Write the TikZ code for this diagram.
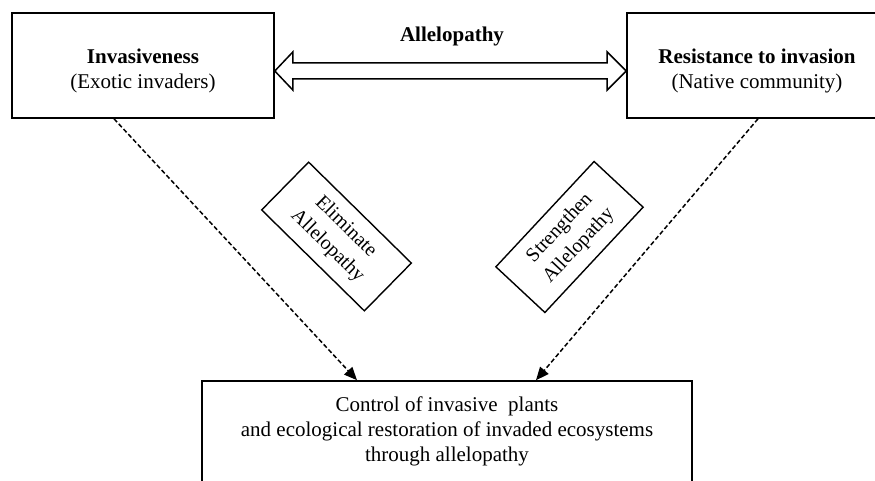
\documentclass[tikz,border=0pt]{standalone}
\usepackage{fontspec}
\setmainfont{Liberation Serif}
\usetikzlibrary{calc,arrows.meta}
\begin{document}
\begin{tikzpicture}[x=1pt,y=-1pt,
  box/.style={draw,line width=1.6pt,inner sep=0pt},
  tilt/.style={draw,line width=1.4pt,inner sep=0pt,minimum width=144,minimum height=67,align=center,font=\fontsize{20}{26}\selectfont},
  txt/.style={align=center,inner sep=0pt,font=\fontsize{21}{25}\selectfont},
  dashcon/.style={line width=1.5pt,dash pattern=on 4.5pt off 2.5pt,-{Triangle[length=13pt,width=11pt]}},
  dblarrow/.style={line width=1.5pt,line join=miter}]
\useasboundingbox (0,0) rectangle (875,481);
\clip (0,0) rectangle (875,481);
\node[box,minimum width=262,minimum height=105] (inv) at (143,65.5) {};
\node[txt] (invtext) at (143,71) {\textbf{Invasiveness}\\(Exotic invaders)};
\node[box,minimum width=260,minimum height=105] (res) at (757,65.5) {};
\node[txt] (restext) at (757,71) {\textbf{Resistance to invasion}\\(Native community)};
\node[txt] (alab) at (452,36) {\textbf{Allelopathy}};
\coordinate (L) at ($(inv.east)+(0,5.5)$);
\coordinate (R) at ($(res.west)+(0,5.5)$);
\draw[dblarrow] (L) -- ++(18,-19) -- ++(0,11) -- ($(R)+(-19,-8)$) -- ++(0,-11) -- (R)
  -- ++(-19,19) -- ++(0,-11) -- ($(L)+(18,8)$) -- ++(0,11) -- cycle;
\node[box,minimum width=490,minimum height=110] (ctrl) at (447,436) {};
\node[txt] (ctrltext) at (447,431) {Control of invasive\ \ plants\\and ecological restoration of invaded ecosystems\\through\ allelopathy};
\node[tilt,rotate=-44.5] (elim) at (336.5,236.5) {Eliminate\\Allelopathy};
\node[tilt,rotate=47] (str) at (569.5,237) {Strengthen\\Allelopathy};
\coordinate (s1) at (inv.south -| 114,0);
\coordinate (s2) at (res.south -| 758,0);
\coordinate (e1) at (ctrl.north -| 357,0);
\coordinate (e2) at (ctrl.north -| 536,0);
\draw[dashcon] (s1) -- (e1);
\draw[dashcon] (s2) -- (e2);
\end{tikzpicture}
\end{document}
